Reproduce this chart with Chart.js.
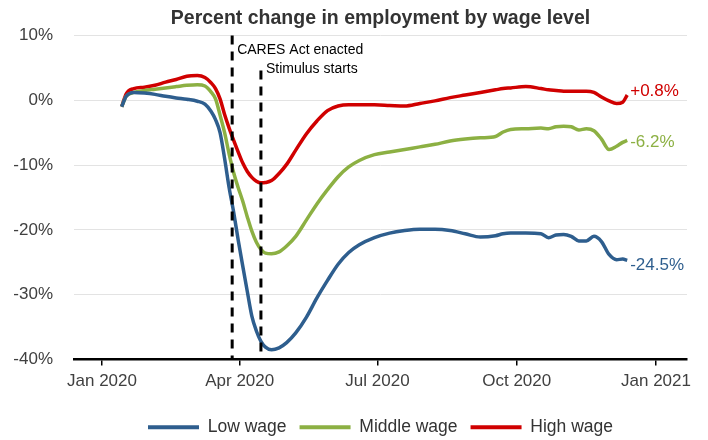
<!DOCTYPE html>
<html>
<head>
    <title>Percent change in employment by wage level</title>
    <script src="https://cdn.jsdelivr.net/npm/chart.js"></script>
    <style>
        body { margin: 0; background: #fff; }
    </style>
</head>
<body>
    <div style="width: 708px; height: 440px;">
        <canvas id="wageChart" width="708" height="440"></canvas>
    </div>

    <script>
        // days since Jan 1 2020
        const days = [13, 16, 21, 28, 35, 42, 49, 56, 63, 68, 72, 75, 78, 81, 84, 87, 90, 93, 96, 99,
            102, 105, 108, 112, 117, 122, 128, 135, 142, 149, 156, 163, 170, 180, 190, 200, 210, 220, 230, 240,
            250, 260, 265, 270, 280, 290, 295, 300, 305, 310, 315, 320, 325, 330, 335, 340, 344, 347];

        const lowWage = [-1.0, 0.6, 1.2, 1.1, 0.9, 0.6, 0.35, 0.15, -0.15, -0.6, -1.7, -3.0, -5.0, -9.0, -13.5, -17.3, -21.6, -25.6, -29.5, -33.3,
            -35.6, -37.2, -38.1, -38.5, -38.2, -37.4, -35.9, -33.5, -30.5, -27.8, -25.3, -23.5, -22.3, -21.2, -20.5, -20.1, -19.9, -19.9, -20.1, -20.6,
            -21.1, -20.9, -20.6, -20.5, -20.5, -20.6, -21.2, -20.8, -20.7, -21.0, -21.7, -21.7, -21.0, -21.8, -23.8, -24.6, -24.5, -24.7];

        const middleWage = [-1.0, 0.6, 1.2, 1.5, 1.7, 1.9, 2.1, 2.3, 2.4, 2.2, 1.3, 0.2, -2.3, -5.0, -8.3, -11.2, -13.5, -15.6, -18.0, -20.2,
            -21.9, -23.0, -23.6, -23.7, -23.4, -22.5, -21.0, -18.5, -16.0, -13.8, -11.8, -10.3, -9.3, -8.4, -8.0, -7.6, -7.2, -6.8, -6.3, -6.0,
            -5.8, -5.6, -4.9, -4.5, -4.4, -4.3, -4.4, -4.1, -4.0, -4.1, -4.6, -4.4, -4.7, -6.0, -7.6, -7.1, -6.5, -6.2];

        const highWage = [-1.0, 1.0, 1.8, 2.0, 2.3, 2.8, 3.2, 3.7, 3.8, 3.5, 2.7, 1.8, 0.2, -2.2, -4.3, -6.2, -8.0, -9.7, -11.0, -11.9,
            -12.5, -12.75, -12.7, -12.4, -11.3, -9.9, -7.7, -5.2, -3.2, -1.6, -0.9, -0.7, -0.7, -0.7, -0.8, -0.9, -0.5, -0.1, 0.4, 0.8,
            1.2, 1.6, 1.8, 1.9, 2.1, 1.8, 1.6, 1.5, 1.4, 1.4, 1.4, 1.4, 1.2, 0.5, -0.1, -0.5, -0.3, 0.8];

        const seriesNames = ['Low wage', 'Middle wage', 'High wage'];
        const endLabels = ['-24.5%', '-6.2%', '+0.8%'];
        const colors = ['#2e5e8e', '#8cb043', '#d00000'];

        const tickDays = [0, 91, 182, 274, 366];
        const tickLabels = ['Jan 2020', 'Apr 2020', 'Jul 2020', 'Oct 2020', 'Jan 2021'];

        const events = [
            { day: 86, top: 10, label: 'CARES Act enacted', labelY: 7.8 },
            { day: 105, top: 4.6, label: 'Stimulus starts', labelY: 4.85 }
        ];

        const font = '"Liberation Sans", Arial, sans-serif';
        Chart.defaults.font.family = font;
        Chart.defaults.color = '#404040';

        const toPoints = vals => vals.map((v, i) => ({ x: days[i], y: v }));

        const eventLines = {
            id: 'eventLines',
            afterDatasetsDraw(chart) {
                const { ctx, scales: { x, y } } = chart;
                ctx.save();
                events.forEach(ev => {
                    const px = x.getPixelForValue(ev.day);
                    ctx.strokeStyle = '#000';
                    ctx.lineWidth = 3;
                    ctx.setLineDash([9, 7]);
                    ctx.beginPath();
                    ctx.moveTo(px, y.getPixelForValue(ev.top));
                    ctx.lineTo(px, y.bottom);
                    ctx.stroke();
                    ctx.setLineDash([]);
                    ctx.fillStyle = '#000';
                    ctx.font = '14px ' + font;
                    ctx.textBaseline = 'middle';
                    ctx.textAlign = 'left';
                    ctx.fillText(ev.label, px + 5, y.getPixelForValue(ev.labelY));
                });
                // end labels
                const dy = [5, 2, -4];
                chart.data.datasets.forEach((ds, i) => {
                    const meta = chart.getDatasetMeta(i);
                    const last = meta.data[meta.data.length - 1];
                    ctx.fillStyle = colors[i];
                    ctx.font = '17px ' + font;
                    ctx.fillText(endLabels[i], last.x + 3, last.y + dy[i]);
                });
                ctx.restore();
            }
        };

        new Chart(document.getElementById('wageChart'), {
            type: 'line',
            data: {
                datasets: seriesNames.map((name, i) => ({
                    label: name,
                    data: toPoints([lowWage, middleWage, highWage][i]),
                    borderColor: colors[i],
                    backgroundColor: colors[i],
                    borderWidth: 3.5,
                    pointRadius: 0,
                    cubicInterpolationMode: 'monotone',
                    fill: false
                }))
            },
            options: {
                responsive: false,
                animation: false,
                layout: { padding: { left: 0, right: 21, top: 0, bottom: -6 } },
                plugins: {
                    title: {
                        display: true,
                        text: 'Percent change in employment by wage level',
                        fullSize: false,
                        color: '#333',
                        font: { size: 19.5, weight: 'bold' },
                        padding: { top: 7, bottom: 5 }
                    },
                    legend: {
                        position: 'bottom',
                        fullSize: false,
                        labels: {
                            boxWidth: 51,
                            boxHeight: 4,
                            padding: 13,
                            color: '#333',
                            font: { size: 17.5 },
                            generateLabels: chart => Chart.defaults.plugins.legend.labels.generateLabels(chart)
                                .map(l => ({ ...l, lineWidth: 0, fillStyle: l.strokeStyle }))
                        }
                    },
                    tooltip: { enabled: false }
                },
                scales: {
                    x: {
                        type: 'linear',
                        min: -18.5,
                        max: 386.5,
                        afterBuildTicks: scale => { scale.ticks = tickDays.map(v => ({ value: v })); },
                        afterFit: scale => { scale.height = 46; },
                        ticks: {
                            callback: (v, i) => tickLabels[i],
                            font: { size: 17 },
                            padding: 6,
                            maxRotation: 0
                        },
                        grid: { drawOnChartArea: false, drawTicks: true, tickLength: 6, color: '#000', lineWidth: 1.5 },
                        border: { color: '#000', width: 2.5 }
                    },
                    y: {
                        min: -40,
                        max: 10,
                        afterFit: scale => { scale.width = 74; },
                        ticks: {
                            stepSize: 10,
                            callback: v => v + '%',
                            font: { size: 17 },
                            padding: 21
                        },
                        grid: { color: '#e3e3e3', lineWidth: 1, drawTicks: false },
                        border: { display: false }
                    }
                }
            },
            plugins: [eventLines]
        });
    </script>
</body>
</html>
